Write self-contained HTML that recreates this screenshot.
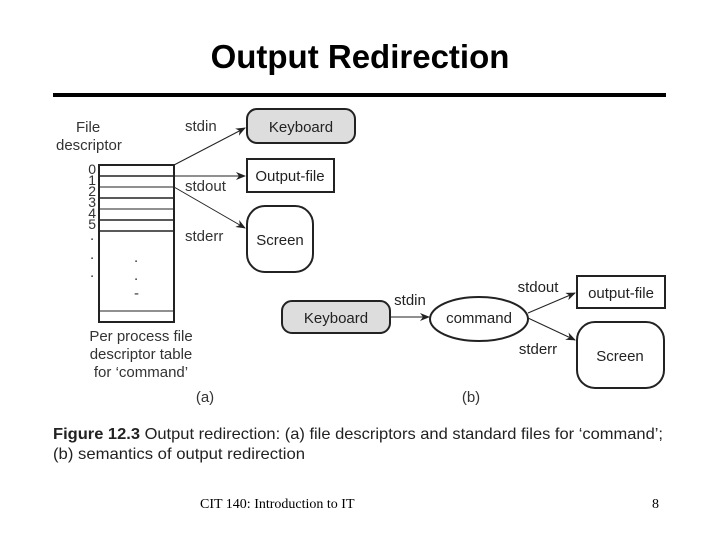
<!DOCTYPE html>
<html><head><style>
body{margin:0;width:720px;height:540px;background:#fff;overflow:hidden}
</style></head><body>
<svg width="720" height="540" xmlns="http://www.w3.org/2000/svg" font-family="Liberation Sans, sans-serif">
<defs><marker id="a" markerWidth="10" markerHeight="8" refX="9" refY="4" orient="auto" markerUnits="userSpaceOnUse"><path d="M0,0 L10,4 L0,8 L3,4z" fill="#222"/></marker></defs>
<text x="360" y="68" text-anchor="middle" font-size="33" font-weight="bold">Output Redirection</text>
<rect x="53" y="93" width="613" height="4" fill="#000"/>
<g fill="#333" font-size="15">
<text x="76" y="132">File</text>
<text x="56" y="150">descriptor</text>
<text x="185" y="131">stdin</text>
<text x="185" y="191">stdout</text>
<text x="185" y="241">stderr</text>
<g font-size="14" text-anchor="end"><text x="96" y="174">0</text><text x="96" y="185">1</text><text x="96" y="196">2</text><text x="96" y="207">3</text><text x="96" y="218">4</text><text x="96" y="229">5</text></g>
<text x="90" y="240">.</text><text x="90" y="259">.</text><text x="90" y="277">.</text>
<text x="134" y="262">.</text><text x="134" y="280">.</text><text x="134" y="298">-</text>
<text x="141" y="341" text-anchor="middle">Per process file</text>
<text x="141" y="359" text-anchor="middle">descriptor table</text>
<text x="141" y="377" text-anchor="middle">for ‘command’</text>
<text x="205" y="402" text-anchor="middle">(a)</text>
<text x="471" y="402" text-anchor="middle">(b)</text>
</g>
<g stroke="#222" fill="none">
<rect x="99" y="165" width="75" height="157" stroke-width="2"/>
<g stroke-width="1.5"><line x1="99" y1="176" x2="174" y2="176"/><line x1="99" y1="187" x2="174" y2="187" stroke-width="1"/><line x1="99" y1="198" x2="174" y2="198"/><line x1="99" y1="209" x2="174" y2="209" stroke-width="1"/><line x1="99" y1="220" x2="174" y2="220"/><line x1="99" y1="231" x2="174" y2="231"/><line x1="99" y1="311" x2="174" y2="311" stroke-width="1"/></g>
<rect x="247" y="109" width="108" height="34" rx="10" fill="#ddd" stroke-width="2"/>
<rect x="247" y="159" width="87" height="33" stroke-width="2"/>
<rect x="247" y="206" width="66" height="66" rx="18" stroke-width="2"/>
<line x1="174" y1="165" x2="245" y2="128" marker-end="url(#a)"/>
<line x1="174" y1="176" x2="245" y2="176" marker-end="url(#a)"/>
<line x1="174" y1="187" x2="245" y2="228" marker-end="url(#a)"/>
<rect x="282" y="301" width="108" height="32" rx="10" fill="#ddd" stroke-width="2"/>
<ellipse cx="479" cy="319" rx="49" ry="22" stroke-width="2"/>
<rect x="577" y="276" width="88" height="32" stroke-width="2"/>
<rect x="577" y="322" width="87" height="66" rx="18" stroke-width="2"/>
<line x1="390" y1="317" x2="429" y2="317" marker-end="url(#a)"/>
<line x1="528" y1="313" x2="575" y2="293" marker-end="url(#a)"/>
<line x1="528" y1="318" x2="575" y2="340" marker-end="url(#a)"/>
</g>
<g fill="#222" font-size="15" text-anchor="middle">
<text x="301" y="132">Keyboard</text>
<text x="290" y="181">Output-file</text>
<text x="280" y="245">Screen</text>
<text x="336" y="323">Keyboard</text>
<text x="479" y="323">command</text>
<text x="621" y="298">output-file</text>
<text x="620" y="361">Screen</text>
<text x="410" y="305">stdin</text>
<text x="538" y="292">stdout</text>
<text x="538" y="354">stderr</text>
</g>
<text x="53" y="439" font-size="16" fill="#222" textLength="610" lengthAdjust="spacingAndGlyphs"><tspan font-weight="bold">Figure 12.3</tspan> Output redirection: (a) file descriptors and standard files for ‘command’;</text>
<text x="53" y="459" font-size="16" fill="#222" textLength="252" lengthAdjust="spacingAndGlyphs">(b) semantics of output redirection</text>
<g font-family="Liberation Serif, serif" font-size="14"><text x="200" y="508">CIT 140: Introduction to IT</text><text x="652" y="508">8</text></g>
</svg>
</body></html>
